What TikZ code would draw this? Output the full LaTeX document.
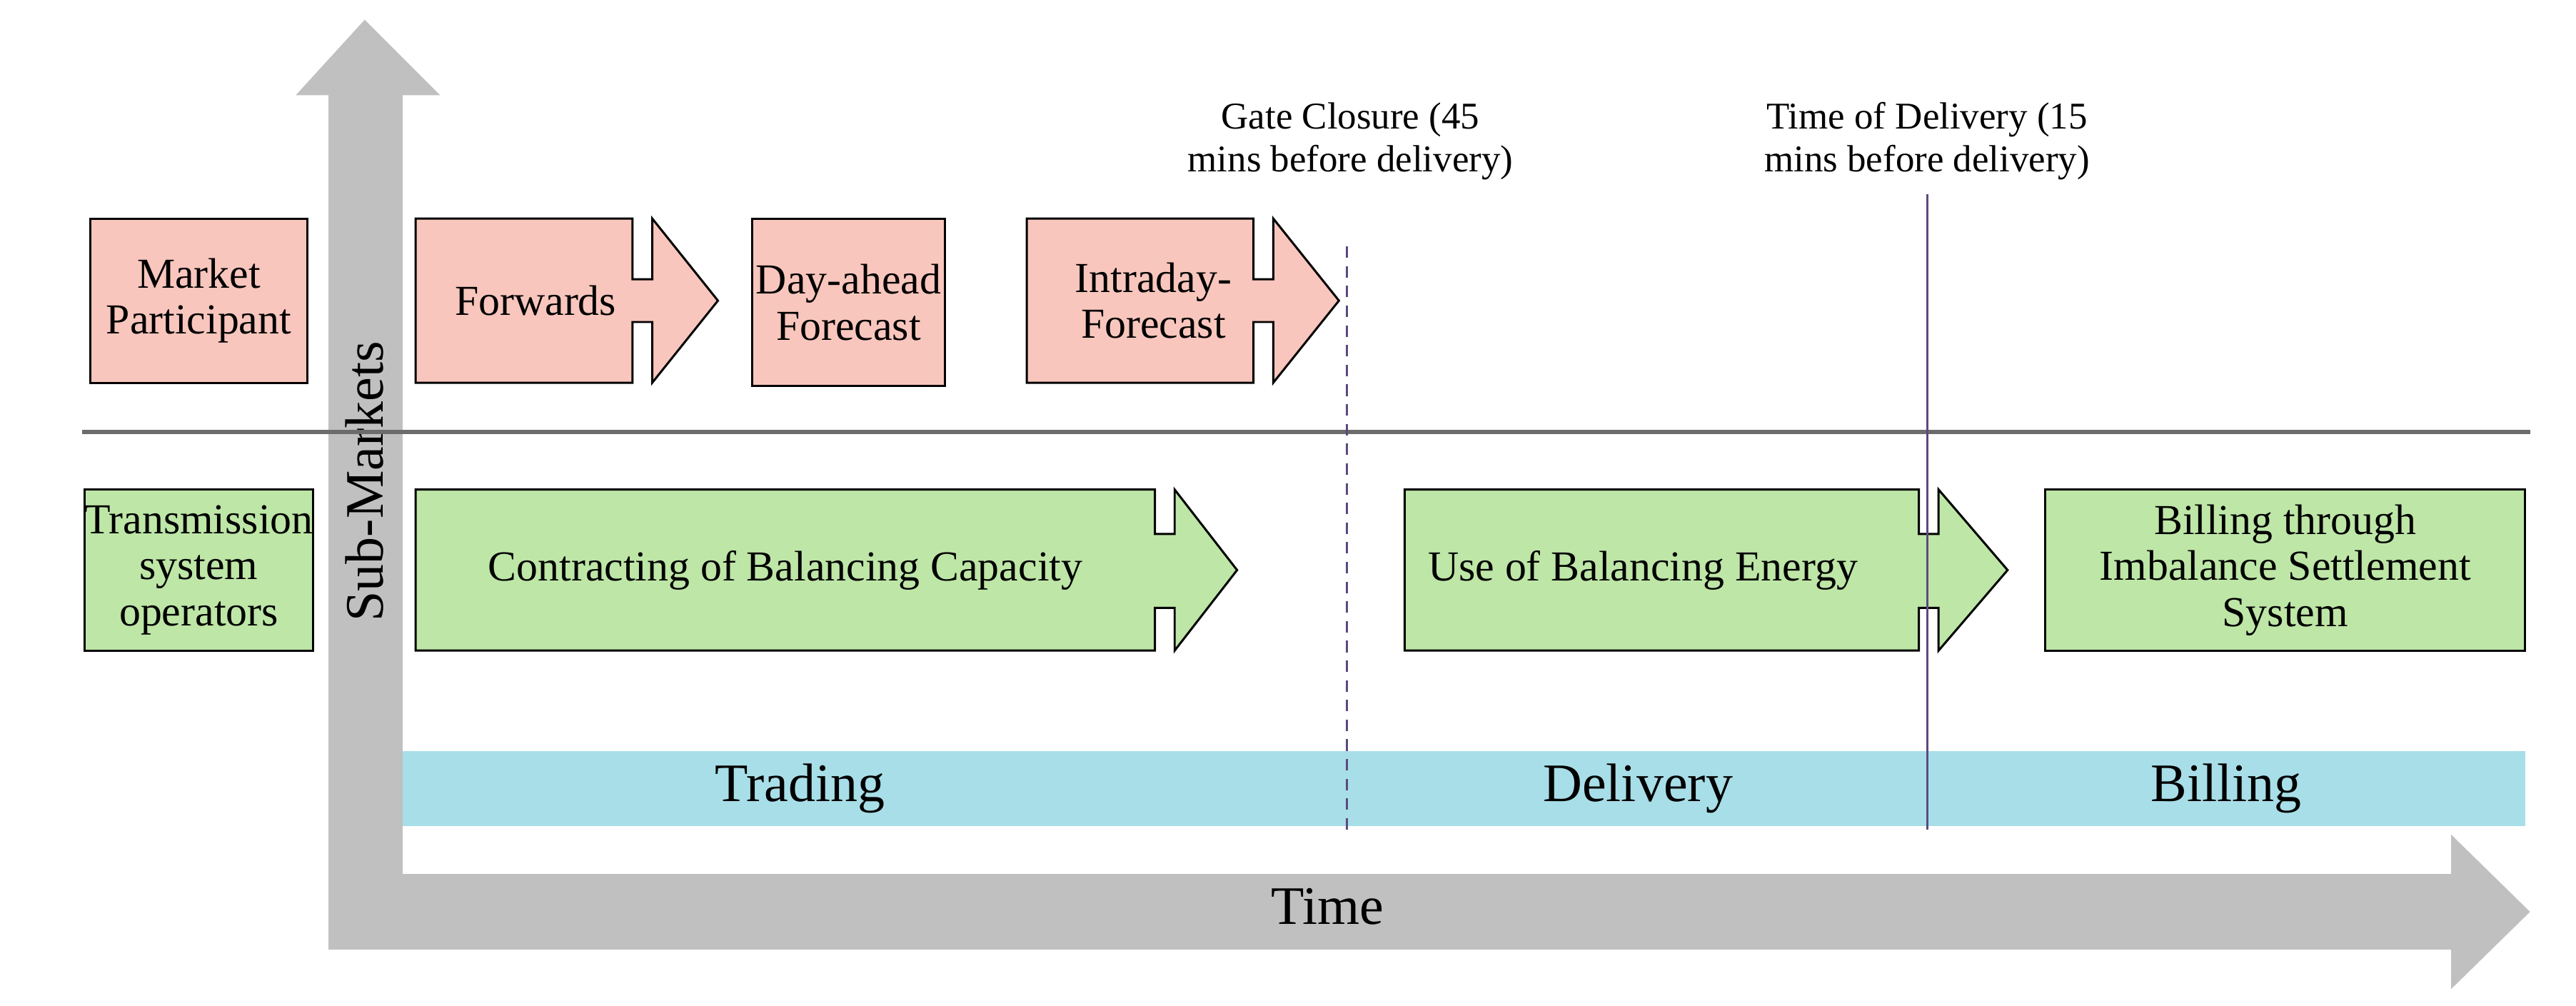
\documentclass[tikz,border=0pt]{standalone}
\usepackage{fontspec}
\setmainfont{Liberation Serif}
\begin{document}
\begin{tikzpicture}[x=1pt,y=-1pt,
  lbl/.style={font=\fontsize{26}{28}\selectfont,align=center,inner sep=0},
  timemark/.style={font=\fontsize{23}{26}\selectfont,align=center,inner sep=0},
  big/.style={font=\fontsize{33}{35}\selectfont,inner sep=0},
  pinkf/.style={fill=pinkc,draw=black,line width=1.3pt},
  greenf/.style={fill=greenc,draw=black,line width=1.3pt}]
\definecolor{pinkc}{HTML}{F8C6BC}
\definecolor{greenc}{HTML}{BEE6A6}
\definecolor{grayc}{HTML}{C0C0C0}
\definecolor{bluec}{HTML}{A8DEE8}
\definecolor{purp}{HTML}{5B4A7E}
\useasboundingbox (0,0) rectangle (1568,612);
% gray axes
\fill[grayc] (200,58) -- (180,58) -- (222,12) -- (268,58) -- (245,58) -- (245,532) -- (1492,532) -- (1492,508) -- (1540,555) -- (1492,602) -- (1492,578) -- (200,578) -- cycle;
\node[big,rotate=90] (sub) at (222,293) {Sub-Markets};
\node[big] (time) at (808,552) {Time};
% separator
\draw[line width=2.5pt,gray!85!black] (50,263) -- (1540,263);
% band
\fill[bluec] (245,457) rectangle (1537,503);
\node[big] (trading) at (487,480) {Trading};
\node[big] (delivery) at (997,480) {Delivery};
\node[big] (billing) at (1355,480) {Billing};
% left boxes
\node[pinkf,lbl,minimum width=132pt,minimum height=100pt] (mp) at (121,183) {Market\\Participant};
\node[greenf,lbl,minimum width=132pt,minimum height=98pt] (tso) at (121,347) {Transmission\\system\\operators};
% pink arrows
\draw[pinkf] (253,133) -- (385,133) -- (385,170) -- (397,170) -- (397,133) -- (437,183) -- (397,233) -- (397,196) -- (385,196) -- (385,233) -- (253,233) -- cycle;
\node[lbl] (fw) at (326,183) {Forwards};
\node[pinkf,lbl,minimum width=117pt,minimum height=102pt] (da) at (516.5,184) {Day-ahead\\Forecast};
\draw[pinkf] (625,133) -- (763,133) -- (763,170) -- (775,170) -- (775,133) -- (815,183) -- (775,233) -- (775,196) -- (763,196) -- (763,233) -- (625,233) -- cycle;
\node[lbl] (id) at (702,183) {Intraday-\\Forecast};
% green arrows
\draw[greenf] (253,298) -- (703,298) -- (703,325) -- (715,325) -- (715,298) -- (753,347) -- (715,396) -- (715,370) -- (703,370) -- (703,396) -- (253,396) -- cycle;
\node[lbl] (cbc) at (478,347) {Contracting of Balancing Capacity};
\draw[greenf] (855,298) -- (1168,298) -- (1168,325) -- (1180,325) -- (1180,298) -- (1222,347) -- (1180,396) -- (1180,370) -- (1168,370) -- (1168,396) -- (855,396) -- cycle;
\node[lbl] (ube) at (1000,347) {Use of Balancing Energy};
\node[greenf,lbl,minimum width=292pt,minimum height=98pt] (bill) at (1391,347) {Billing through\\Imbalance Settlement\\System};
% time markers
\node[timemark] (gate) at (822,86) {Gate Closure (45\\mins before delivery)};
\node[timemark] (tod) at (1173,86) {Time of Delivery (15\\mins before delivery)};
\coordinate (gtop) at (820,150);
\coordinate (gbot) at (820,505);
\coordinate (ttop) at (1173,118);
\coordinate (tbot) at (1173,505);
\draw[purp,line width=1.3pt,dash pattern=on 7pt off 5pt] (gtop) -- (gbot);
\draw[purp,line width=1.3pt] (ttop) -- (tbot);
\end{tikzpicture}
\end{document}
